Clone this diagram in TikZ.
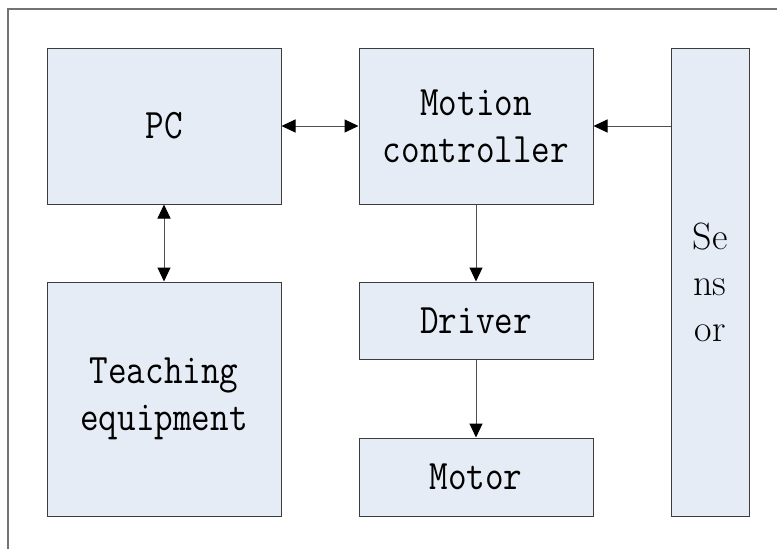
\documentclass[tikz,border=0pt]{standalone}
\usepackage{fontspec}
\setmonofont[FakeStretch=0.86]{Latin Modern Mono}
\usetikzlibrary{arrows.meta}
\definecolor{boxfill}{RGB}{230,236,246}
\definecolor{boxline}{RGB}{60,60,60}
\definecolor{frameline}{RGB}{115,115,115}
\definecolor{linkline}{RGB}{80,80,80}
\begin{document}
\begin{tikzpicture}[x=1pt,y=-1pt,
  blk/.style={draw=boxline,fill=boxfill,line width=1pt,inner sep=0pt,
    align=center,font=\fontsize{42}{47}\selectfont\ttfamily},
  tip/.style={Triangle[length=14pt,width=13pt,color=black]},
  link/.style={draw=linkline,line width=1pt,
    arrows={-Triangle[length=14pt,width=13pt,color=black]}},
  biglink/.style={draw=linkline,line width=1pt,
    arrows={Triangle[length=14pt,width=13pt,color=black]-Triangle[length=14pt,width=13pt,color=black]}}]
\useasboundingbox (0,0) rectangle (777,549);
% outer frame
\draw[frameline,line width=1.2pt] (777,9) -- (8,9) -- (8,549);
% blocks
\node[blk,minimum width=234pt,minimum height=156pt] (pc) at (164,126) {PC};
\node[blk,minimum width=234pt,minimum height=156pt] (mc) at (476,126) {Motion\\controller};
\node[blk,minimum width=78pt,minimum height=468pt,
  font=\fontsize{38}{46}\selectfont\rmfamily] (sensor) at (710,282) {Se\\ns\\or};
\node[blk,minimum width=234pt,minimum height=234pt] (teach) at (164,399) {Teaching\\equipment};
\node[blk,minimum width=234pt,minimum height=77pt] (drv) at (476,320.5) {Driver};
\node[blk,minimum width=234pt,minimum height=78pt] (motor) at (476,477) {Motor};
% connectors
\draw[biglink] (pc.east) -- (mc.west);
\draw[biglink] (pc.south) -- (teach.north);
\draw[link] (sensor.west |- mc.east) -- (mc.east);
\draw[link] (mc.south) -- (drv.north);
\draw[link] (drv.south) -- (motor.north);
\end{tikzpicture}
\end{document}
